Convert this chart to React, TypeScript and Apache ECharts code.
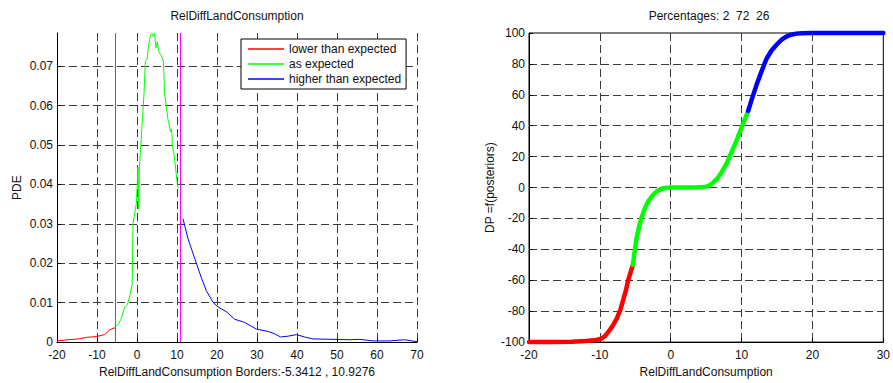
import React, { useEffect, useRef } from 'react';
import * as echarts from 'echarts';

const FONT = '"Liberation Sans", Arial, sans-serif';
const FS = 12;

const leftTitle = 'RelDiffLandConsumption';
const rightTitle = 'Percentages: 2  72  26';
const leftXName = 'RelDiffLandConsumption Borders:-5.3412 , 10.9276';
const leftYName = 'PDE';
const rightXName = 'RelDiffLandConsumption';
const rightYName = 'DP =f(posteriors)';
const legendNames = ['lower than expected', 'as expected', 'higher than expected'];
const rightNames = ['DP lower', 'DP expected', 'DP higher'];
const borders = [-5.3412, 10.9276];

// Left chart: PDE curve pieces
const pdeRedX = [-20, -17.2, -14.7, -12.6, -10.2, -8.1, -6.8, -6.0, -5.5];
const pdeRedY = [0.0003, 0.0006, 0.0008, 0.0012, 0.0014, 0.0019, 0.0031, 0.0035, 0.0036];

const pdeGreenX = [-5.3, -4.75, -3.9, -3.1, -2.4, -1.8, -1.2, -1.0, -0.15, 0.25, 0.45, 0.6, 1.1, 1.75, 2.1, 2.5, 2.9, 3.4, 3.75, 4.1, 4.4, 4.75, 5.1, 5.4, 5.9, 6.35, 6.6, 6.9, 7.35, 7.75, 8.4, 8.6, 8.75, 8.8, 9.25, 9.7, 10.1, 10.4];
const pdeGreenY = [0.004, 0.0044, 0.006, 0.0089, 0.0095, 0.0118, 0.0147, 0.03, 0.0353, 0.0444, 0.0337, 0.0444, 0.0523, 0.063, 0.0713, 0.0717, 0.0754, 0.0779, 0.0783, 0.0775, 0.0783, 0.0746, 0.0762, 0.0738, 0.0729, 0.0721, 0.0713, 0.063, 0.0597, 0.0564, 0.0533, 0.054, 0.0526, 0.05, 0.0477, 0.0436, 0.0399, 0.039];

const pdeBlueX = [11.5, 12.75, 14.4, 16.1, 17.35, 19, 20.25, 22.35, 24.4, 26.9, 29.85, 32.75, 34.4, 35.9, 37.75, 39.85, 41.9, 44, 49, 53.2, 55.7, 59, 63.2, 66.9, 70];
const pdeBlueY = [0.0313, 0.0262, 0.0213, 0.0163, 0.013, 0.0101, 0.0089, 0.0077, 0.0058, 0.005, 0.0033, 0.0027, 0.0021, 0.0013, 0.0015, 0.0019, 0.0013, 0.0008, 0.0007, 0.0006, 0.0007, 0.0003, 0.0003, 0.0006, 0.0001];

// Right chart: DP curve pieces
const dpRedX = [-20, -17, -14, -12, -10.5, -9.8, -9.3, -8.76, -8.2, -7.6, -7.1, -6.67, -6.3, -5.97, -5.65, -5.34];
const dpRedY = [-100, -99.9, -99.7, -99.3, -98.6, -97.8, -96.2, -93.1, -89.5, -84.7, -79, -72.1, -66, -59.4, -54.5, -50];
const dpGreenX = [-5.34, -5.05, -4.8, -4.45, -4.12, -3.65, -3.19, -2.6, -2.03, -1.45, -0.87, 0, 1.5, 3.0, 3.8, 4.6, 5.0, 5.4, 5.9, 6.56, 7.2, 7.95, 8.6, 9.34, 10.1, 10.93];
const dpGreenY = [-50, -40, -32.2, -25, -19.5, -13.5, -9, -5.3, -2.7, -1.1, -0.3, 0, 0, 0.05, 0.15, 0.4, 0.6, 1.2, 2.8, 5.7, 10, 16.2, 23, 31, 40, 49.6];
const dpBlueX = [10.93, 11.5, 12.1, 12.8, 13.5, 14.2, 14.9, 15.6, 16.3, 17.0, 17.7, 18.5, 20, 30];
const dpBlueY = [49.6, 58, 66.3, 75, 83.2, 88.5, 92.2, 95.5, 97.6, 98.9, 99.6, 99.9, 100, 100];

const zip = (xs: number[], ys: number[]) => xs.map((x, i) => [x, ys[i]]);

const TEXT = '#111';
const GRID_LINE = { color: '#3a3a3a', width: 1, type: [8, 4] as number[] };
const xLabel = { color: TEXT, fontSize: FS, lineHeight: 12, fontFamily: FONT, margin: 7 };
const yLabel = { color: TEXT, fontSize: FS, lineHeight: 12, fontFamily: FONT, margin: 4 };

function axisBase(extra: any) {
  return {
    type: 'value',
    axisLine: { show: true, onZero: false, lineStyle: { color: '#000', width: 1 } },
    axisTick: { show: true, inside: true, length: 4, lineStyle: { color: '#000' } },
    nameLocation: 'middle',
    nameTextStyle: { color: TEXT, fontSize: FS, fontFamily: FONT },
    ...extra,
  };
}

const option: any = {
  animation: false,
  backgroundColor: '#fff',
  title: [
    { text: leftTitle, left: 237, top: 10, textAlign: 'center', padding: 0, textStyle: { fontSize: FS, fontWeight: 'normal', color: TEXT, fontFamily: FONT } },
    { text: rightTitle, left: 709, top: 10, textAlign: 'center', padding: 0, textStyle: { fontSize: FS, fontWeight: 'normal', color: TEXT, fontFamily: FONT } },
  ],
  legend: {
    data: legendNames,
    left: 241,
    top: 39,
    orient: 'vertical',
    backgroundColor: '#fff',
    borderColor: '#000',
    borderWidth: 1,
    padding: [4, 5, 4, 7],
    itemGap: 3,
    itemWidth: 36,
    itemHeight: 1.5,
    icon: 'rect',
    selectedMode: false,
    textStyle: { fontSize: FS, color: TEXT, fontFamily: FONT },
  },
  grid: [
    { left: 57, top: 33, width: 360, height: 316 },
    { left: 529, top: 33, width: 360, height: 316, show: true, borderColor: '#000', borderWidth: 1, backgroundColor: 'transparent' },
  ],
  xAxis: [
    axisBase({
      gridIndex: 0, min: -20, max: 70, interval: 10,
      name: leftXName, nameGap: 21,
      axisLabel: xLabel,
      splitLine: { show: true, showMinLine: false, lineStyle: GRID_LINE },
    }),
    axisBase({
      gridIndex: 1, min: -20, max: 30, interval: 10,
      name: rightXName, nameGap: 21,
      axisLabel: xLabel,
      splitLine: { show: true, showMinLine: false, showMaxLine: false, lineStyle: GRID_LINE },
    }),
  ],
  yAxis: [
    axisBase({
      gridIndex: 0, min: 0, max: 0.0784, interval: 0.01,
      name: leftYName, nameGap: 34,
      axisLabel: { ...yLabel, showMaxLabel: false },
      splitLine: { show: true, showMinLine: false, showMaxLine: false, lineStyle: GRID_LINE },
    }),
    axisBase({
      gridIndex: 1, min: -100, max: 100, interval: 20,
      name: rightYName, nameGap: 33,
      axisLabel: yLabel,
      splitLine: { show: true, showMinLine: false, showMaxLine: false, lineStyle: GRID_LINE },
    }),
  ],
  series: [
    {
      name: legendNames[0], type: 'line', xAxisIndex: 0, yAxisIndex: 0, color: '#ff0000',
      symbol: 'none', showSymbol: false, lineStyle: { width: 1, color: '#ff0000' }, data: zip(pdeRedX, pdeRedY),
    },
    {
      name: legendNames[1], type: 'line', xAxisIndex: 0, yAxisIndex: 0, color: '#00ff00',
      symbol: 'none', showSymbol: false, lineStyle: { width: 1, color: '#00ff00' }, data: zip(pdeGreenX, pdeGreenY),
      markLine: {
        silent: true, symbol: ['none', 'none'], label: { show: false },
        lineStyle: { color: '#ff00ff', width: 1, type: 'solid' },
        data: borders.map((b) => ({ xAxis: b })),
      },
    },
    {
      name: legendNames[2], type: 'line', xAxisIndex: 0, yAxisIndex: 0, color: '#0000ff',
      symbol: 'none', showSymbol: false, lineStyle: { width: 1, color: '#0000ff' }, data: zip(pdeBlueX, pdeBlueY),
    },
    {
      name: rightNames[0], type: 'line', xAxisIndex: 1, yAxisIndex: 1, color: '#ff0000', clip: false,
      symbol: 'none', showSymbol: false, lineStyle: { width: 4.5, color: '#ff0000', join: 'round', cap: 'round' }, data: zip(dpRedX, dpRedY),
    },
    {
      name: rightNames[1], type: 'line', xAxisIndex: 1, yAxisIndex: 1, color: '#00ff00', clip: false,
      symbol: 'none', showSymbol: false, lineStyle: { width: 4.5, color: '#00ff00', join: 'round', cap: 'round' }, data: zip(dpGreenX, dpGreenY),
    },
    {
      name: rightNames[2], type: 'line', xAxisIndex: 1, yAxisIndex: 1, color: '#0000ff', clip: false,
      symbol: 'none', showSymbol: false, lineStyle: { width: 4.5, color: '#0000ff', join: 'round', cap: 'round' }, data: zip(dpBlueX, dpBlueY),
    },
  ],
};

export default function App() {
  const ref = useRef<HTMLDivElement>(null);
  useEffect(() => {
    const chart = echarts.init(ref.current!, null, { renderer: 'svg' });
    chart.setOption(option);
    return () => chart.dispose();
  }, []);
  return (
    <div
      ref={ref}
      style={{ position: 'fixed', left: 0, top: 0, width: 893, height: 383, background: '#fff' }}
    />
  );
}
